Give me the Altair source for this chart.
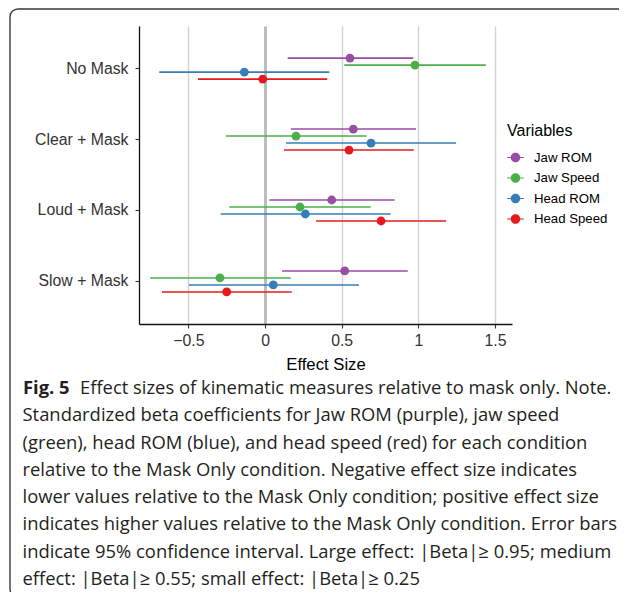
import altair as alt
import pandas as pd

conditions = ["No Mask", "Clear + Mask", "Loud + Mask", "Slow + Mask"]
variables = ["Jaw ROM", "Jaw Speed", "Head ROM", "Head Speed"]
colors = ["#984EA3", "#4DAF4A", "#377EB8", "#E41A1C"]

# estimates and 95% CI bounds, one value per condition (order as `conditions`)
jaw_rom_est = [0.554, 0.576, 0.435, 0.520]
jaw_rom_lo = [0.148, 0.168, 0.028, 0.111]
jaw_rom_hi = [0.967, 0.985, 0.846, 0.931]

jaw_speed_est = [0.978, 0.202, 0.228, -0.294]
jaw_speed_lo = [0.517, -0.254, -0.233, -0.750]
jaw_speed_hi = [1.440, 0.663, 0.689, 0.168]

head_rom_est = [-0.135, 0.691, 0.263, 0.054]
head_rom_lo = [-0.690, 0.137, -0.289, -0.496]
head_rom_hi = [0.420, 1.246, 0.820, 0.613]

head_speed_est = [-0.015, 0.548, 0.757, -0.250]
head_speed_lo = [-0.437, 0.124, 0.333, -0.672]
head_speed_hi = [0.406, 0.970, 1.181, 0.174]

x_ticks = [-0.5, 0, 0.5, 1, 1.5]

caption_bold = "Fig. 5"
caption_first = "Effect sizes of kinematic measures relative to mask only. Note."
caption_rest = [
    "Standardized beta coefficients for Jaw ROM (purple), jaw speed",
    "(green), head ROM (blue), and head speed (red) for each condition",
    "relative to the Mask Only condition. Negative effect size indicates",
    "lower values relative to the Mask Only condition; positive effect size",
    "indicates higher values relative to the Mask Only condition. Error bars",
    "indicate 95% confidence interval. Large effect: |Beta|\u2265 0.95; medium",
    "effect: |Beta|\u2265 0.55; small effect: |Beta|\u2265 0.25",
]

series = {
    "Jaw ROM": (jaw_rom_est, jaw_rom_lo, jaw_rom_hi),
    "Jaw Speed": (jaw_speed_est, jaw_speed_lo, jaw_speed_hi),
    "Head ROM": (head_rom_est, head_rom_lo, head_rom_hi),
    "Head Speed": (head_speed_est, head_speed_lo, head_speed_hi),
}
rows = []
for var, (e, lo, hi) in series.items():
    for i, c in enumerate(conditions):
        rows.append({"cond": c, "var": var, "est": e[i], "lo": lo[i], "hi": hi[i]})
df = pd.DataFrame(rows)
one = pd.DataFrame({"k": [0]})

xscale = alt.Scale(domain=[-0.822, 1.611], nice=False, zero=False)
yscale = alt.Scale(type="band", paddingInner=0, paddingOuter=0.1)
oscale = alt.Scale(type="band", paddingInner=0, paddingOuter=0, range=[21.5, 49.5])
cscale = alt.Scale(domain=variables, range=colors)

xaxis = alt.Axis(
    values=x_ticks, format="~g", title="Effect Size", grid=True,
    gridColor={"condition": {"test": "datum.value === 0", "value": "#bdbdbd"}, "value": "#d2d2d2"},
    gridWidth={"condition": {"test": "datum.value === 0", "value": 3}, "value": 1.4},
    labelFontSize=15.8, labelColor="#333333", labelPadding=5,
    tickSize=4, tickColor="#333333", tickWidth=1.1,
    domainColor="#111111", domainWidth=1.3,
    titleFontSize=16.7, titleFontWeight="normal", titleColor="#000000", titlePadding=9,
)
yaxis = alt.Axis(
    title=None, grid=False, labelFontSize=15.8, labelColor="#333333", labelPadding=7,
    tickSize=4, tickColor="#333333", tickWidth=1.1,
    domainColor="#111111", domainWidth=1.3,
)

legend_path = ("M-1,-0.06 L1,-0.06 L1,0.06 L-1,0.06 Z "
               "M0.57,0 A0.57,0.57 0 1,1 -0.57,0 A0.57,0.57 0 1,1 0.57,0 Z")
legend = alt.Legend(
    orient="none", legendX=368, legendY=97, padding=0, offset=0,
    titleFontSize=16, titleFontWeight="normal", titleColor="#000000",
    titlePadding=10, labelFontSize=13.2, labelColor="#000000",
    labelOffset=10, symbolType=legend_path, symbolSize=280,
    symbolStrokeWidth=0, symbolOpacity=1, rowPadding=5.5,
)
color_enc = alt.Color("var:N", scale=cscale, title="Variables", legend=legend)

base = alt.Chart(df)
y_enc = alt.Y("cond:N", sort=conditions, scale=yscale, axis=yaxis)
yo_enc = alt.YOffset("var:N", sort=variables, scale=oscale)

rules = base.mark_rule(strokeWidth=1.6).encode(
    x=alt.X("lo:Q", scale=xscale, axis=xaxis),
    x2="hi:Q",
    y=y_enc,
    yOffset=yo_enc,
    color=color_enc,
)
points = base.mark_circle(size=78, opacity=1).encode(
    x=alt.X("est:Q", scale=xscale, axis=xaxis),
    y=y_enc,
    yOffset=yo_enc,
    color=color_enc,
)

border = alt.Chart(one).mark_rect(
    cornerRadius=8, fill="#ffffff", fillOpacity=0, stroke="#3a3a3a", strokeWidth=1.4
).encode(x=alt.value(-129), x2=alt.value(540), y=alt.value(-17), y2=alt.value(571))

cap_font = "Open Sans"
cap_size = 18.4
cap1 = alt.Chart(one).mark_text(
    text=caption_bold, font=cap_font, fontWeight="bold", fontSize=cap_size,
    align="left", baseline="alphabetic", color="#231f20",
).encode(x=alt.value(-116), y=alt.value(368))
cap2 = alt.Chart(one).mark_text(
    text=caption_first, font=cap_font, fontSize=cap_size,
    align="left", baseline="alphabetic", color="#231f20",
).encode(x=alt.value(-59), y=alt.value(368))
cap3 = alt.Chart(one).mark_text(
    text=caption_rest, font=cap_font, fontSize=cap_size, lineHeight=27.3,
    align="left", baseline="alphabetic", color="#231f20",
).encode(x=alt.value(-116.5), y=alt.value(395.3))

chart = alt.layer(border, rules, points, cap1, cap2, cap3).properties(
    width=373, height=298,
    autosize=alt.AutoSizeParams(type="none"),
    padding={"left": 131, "top": 18, "right": 107, "bottom": 268},
    background="#ffffff",
).configure(font="Liberation Sans").configure_view(stroke=None)

chart.save("out.html", embed_options={"renderer": "svg", "actions": False})
